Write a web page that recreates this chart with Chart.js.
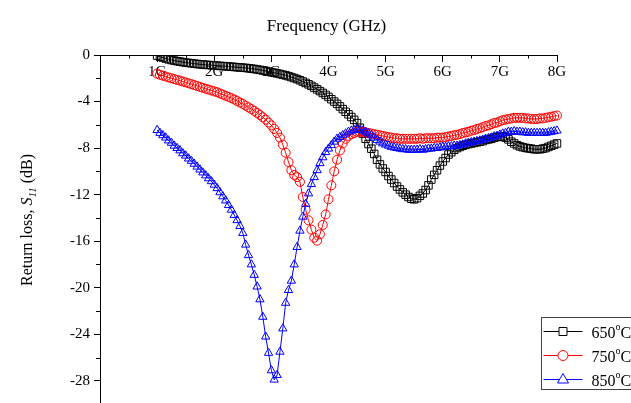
<!DOCTYPE html>
<html>
<head>
<meta charset="utf-8">
<script src="https://cdn.jsdelivr.net/npm/chart.js@4.4.1/dist/chart.umd.min.js"></script>
<style>
  html, body { margin: 0; padding: 0; background: #fff; }
  #wrap { width: 631px; height: 403px; }
</style>
</head>
<body>
<div id="wrap"><canvas id="returnLossChart"></canvas></div>
<script>
// sampling grid (GHz)
const freqStart = 1;
const freqStep = 0.05;

const xTicks = [1, 2, 3, 4, 5, 6, 7, 8];
const xMinorTicks = [0.5, 1.5, 2.5, 3.5, 4.5, 5.5, 6.5, 7.5];
const yTicks = [0, -4, -8, -12, -16, -20, -24, -28];
const yMinorTicks = [-2, -6, -10, -14, -18, -22, -26];

const seriesTemps = ["650", "750", "850"];

// 650 C, 1.00 .. 8.00 GHz
const s650 = [
  -0.05, -0.15, -0.22, -0.3, -0.37, -0.43, -0.48, -0.53, -0.57, -0.61,
  -0.65, -0.68, -0.71, -0.74, -0.77, -0.8, -0.82, -0.84, -0.86, -0.88,
  -0.9, -0.92, -0.94, -0.95, -0.97, -0.99, -1.01, -1.03, -1.05, -1.07,
  -1.09, -1.11, -1.14, -1.17, -1.2, -1.24, -1.28, -1.33, -1.38, -1.43,
  -1.48, -1.53, -1.58, -1.63, -1.69, -1.75, -1.82, -1.9, -1.98, -2.07,
  -2.17, -2.28, -2.4, -2.52, -2.65, -2.8, -2.95, -3.1, -3.26, -3.43,
  -3.6, -3.8, -4.0, -4.2, -4.42, -4.65, -4.88, -5.1, -5.33, -5.57,
  -5.85, -6.25, -6.75, -7.2, -7.65, -8.05, -8.5, -9.0, -9.4, -9.75,
  -10.05, -10.4, -10.7, -11.0, -11.3, -11.55, -11.8, -12.0, -12.2, -12.35,
  -12.4, -12.3, -12.1, -11.9, -11.6, -11.2, -10.7, -10.3, -9.9, -9.5,
  -9.15, -8.85, -8.55, -8.35, -8.15, -8.0, -7.9, -7.8, -7.72, -7.65,
  -7.6, -7.55, -7.5, -7.45, -7.4, -7.3, -7.25, -7.2, -7.1, -7.05,
  -7.0, -7.0, -7.1, -7.25, -7.45, -7.6, -7.75, -7.85, -7.92, -7.98,
  -8.02, -8.05, -8.1, -8.1, -8.1, -8.05, -8.0, -7.9, -7.8, -7.7,
  -7.6,
];

// 750 C
const s750 = [
  -1.6, -1.7, -1.78, -1.85, -1.93, -2.0, -2.07, -2.14, -2.2, -2.28,
  -2.35, -2.43, -2.5, -2.58, -2.66, -2.74, -2.82, -2.9, -2.97, -3.05,
  -3.12, -3.2, -3.3, -3.4, -3.5, -3.6, -3.7, -3.82, -3.95, -4.08,
  -4.2, -4.35, -4.5, -4.65, -4.8, -4.97, -5.15, -5.35, -5.55, -5.8,
  -6.05, -6.35, -6.7, -7.1, -7.7, -8.4, -9.2, -9.9, -10.3, -10.5,
  -10.9, -12.2, -13.3, -14.2, -15.0, -15.7, -15.95, -15.4, -14.6, -13.7,
  -12.4, -11.2, -10.0, -9.0, -8.2, -7.6, -7.2, -6.95, -6.8, -6.7,
  -6.6, -6.6, -6.6, -6.65, -6.7, -6.75, -6.8, -6.85, -6.9, -6.95,
  -7.0, -7.05, -7.1, -7.15, -7.15, -7.2, -7.2, -7.2, -7.2, -7.2,
  -7.2, -7.2, -7.15, -7.2, -7.15, -7.15, -7.15, -7.15, -7.1, -7.1,
  -7.1, -7.05, -7.0, -6.95, -6.9, -6.85, -6.8, -6.7, -6.65, -6.6,
  -6.5, -6.45, -6.35, -6.3, -6.2, -6.1, -6.05, -5.95, -5.85, -5.8,
  -5.7, -5.6, -5.55, -5.5, -5.45, -5.4, -5.4, -5.4, -5.4, -5.45,
  -5.45, -5.5, -5.5, -5.5, -5.45, -5.45, -5.4, -5.35, -5.3, -5.25,
  -5.2,
];

// 850 C
const s850 = [
  -6.45, -6.7, -6.9, -7.1, -7.35, -7.55, -7.8, -8.0, -8.2, -8.45,
  -8.65, -8.9, -9.1, -9.35, -9.6, -9.85, -10.1, -10.35, -10.6, -10.85,
  -11.15, -11.45, -11.8, -12.15, -12.5, -12.9, -13.3, -13.75, -14.2, -14.7,
  -15.3, -16.3, -17.2, -18.0, -18.9, -19.9, -21.0, -22.5, -24.2, -25.6,
  -27.1, -27.9, -27.5, -25.5, -23.5, -21.3, -20.2, -19.4, -18.0, -16.5,
  -15.1, -13.9, -12.8, -11.9, -11.1, -10.5, -9.9, -9.3, -8.8, -8.35,
  -8.05, -7.75, -7.45, -7.2, -7.05, -6.9, -6.75, -6.6, -6.5, -6.45,
  -6.4, -6.45, -6.5, -6.6, -6.75, -6.9, -7.1, -7.3, -7.45, -7.6,
  -7.7, -7.8, -7.9, -7.95, -8.0, -8.05, -8.1, -8.1, -8.15, -8.15,
  -8.15, -8.15, -8.1, -8.15, -8.1, -8.05, -8.05, -8.0, -8.0, -7.95,
  -7.9, -7.9, -7.85, -7.85, -7.8, -7.8, -7.75, -7.7, -7.6, -7.55,
  -7.5, -7.45, -7.4, -7.35, -7.3, -7.2, -7.15, -7.1, -7.0, -6.95,
  -6.85, -6.75, -6.7, -6.6, -6.6, -6.55, -6.6, -6.6, -6.65, -6.65,
  -6.7, -6.7, -6.7, -6.7, -6.7, -6.7, -6.7, -6.65, -6.6, -6.55,
  -6.5,
];

const serif = "'Liberation Serif', 'Times New Roman', serif";

function toPoints(values) {
  return values.map((v, i) => ({ x: +(freqStart + i * freqStep).toFixed(2), y: v }));
}

function makeSet(label, values, color, style, radius, order) {
  return {
    label: label,
    data: toPoints(values),
    borderColor: color,
    borderWidth: 1,
    backgroundColor: "transparent",
    pointStyle: style,
    pointRadius: radius,
    pointBorderColor: color,
    pointBackgroundColor: "rgba(0,0,0,0)",
    pointBorderWidth: 1,
    tension: 0,
    order: order,
    clip: { left: 0, top: 0, right: 6, bottom: 0 },
  };
}

// minor ticks on both axes
const minorTicks = {
  id: "minorTicks",
  afterDraw(chart) {
    const { ctx, scales } = chart;
    const top = scales.y.getPixelForValue(0);
    const left = scales.x.getPixelForValue(0);
    ctx.save();
    ctx.strokeStyle = "#000";
    ctx.lineWidth = 1;
    ctx.beginPath();
    xMinorTicks.forEach((v) => {
      const px = Math.round(scales.x.getPixelForValue(v)) + 0.5;
      ctx.moveTo(px, top);
      ctx.lineTo(px, top + 3.5);
    });
    yMinorTicks.forEach((v) => {
      const py = Math.round(scales.y.getPixelForValue(v)) + 0.5;
      ctx.moveTo(left - 4, py);
      ctx.lineTo(left, py);
    });
    ctx.stroke();
    ctx.restore();
  },
};

// axis titles with super/subscripts
const axisTitles = {
  id: "axisTitles",
  afterDraw(chart) {
    const ctx = chart.ctx;
    const area = chart.chartArea;
    ctx.save();
    ctx.fillStyle = "#000";
    ctx.textBaseline = "alphabetic";
    ctx.textAlign = "center";
    ctx.font = "17px " + serif;
    ctx.fillText("Frequency (GHz)", (area.left + area.right) / 2 - 2, 31);

    const parts = [
      { t: "Return loss, ", f: "16px " + serif, dy: 0 },
      { t: "S", f: "italic 16px " + serif, dy: 0 },
      { t: "11", f: "italic 11px " + serif, dy: 4 },
      { t: " (dB)", f: "16px " + serif, dy: 0 },
    ];
    let total = 0;
    parts.forEach((p) => { ctx.font = p.f; p.w = ctx.measureText(p.t).width; total += p.w; });
    ctx.translate(32, 220);
    ctx.rotate(-Math.PI / 2);
    ctx.textAlign = "left";
    let u = -total / 2;
    parts.forEach((p) => {
      ctx.font = p.f;
      ctx.fillText(p.t, u, p.dy);
      u += p.w;
    });
    ctx.restore();
  },
};

// boxed legend in the lower right corner
const boxLegend = {
  id: "boxLegend",
  afterDraw(chart) {
    const ctx = chart.ctx;
    const sets = chart.data.datasets;
    const boxLeft = 541.5, boxTop = 317.5, rowH = 24;
    ctx.save();
    ctx.strokeStyle = "#444";
    ctx.lineWidth = 1;
    ctx.strokeRect(boxLeft, boxTop, 120, rowH * sets.length + 0);
    sets.forEach((ds, i) => {
      const y = boxTop + 14 + i * rowH;
      ctx.strokeStyle = ds.borderColor;
      ctx.beginPath();
      ctx.moveTo(boxLeft + 2, y);
      ctx.lineTo(boxLeft + 41, y);
      ctx.stroke();
      const mx = boxLeft + 21.5;
      ctx.fillStyle = "#fff";
      ctx.beginPath();
      if (ds.pointStyle === "rect") {
        ctx.rect(mx - 4, y - 4, 8, 8);
      } else if (ds.pointStyle === "circle") {
        ctx.arc(mx, y, 5, 0, Math.PI * 2);
      } else {
        ctx.moveTo(mx, y - 6);
        ctx.lineTo(mx + 5.5, y + 3.5);
        ctx.lineTo(mx - 5.5, y + 3.5);
        ctx.closePath();
      }
      ctx.fill();
      ctx.stroke();

      ctx.fillStyle = "#000";
      ctx.textBaseline = "alphabetic";
      ctx.textAlign = "left";
      let tx = boxLeft + 50;
      ctx.font = "16px " + serif;
      ctx.fillText(seriesTemps[i], tx, y + 6);
      tx += ctx.measureText(seriesTemps[i]).width;
      ctx.font = "10px " + serif;
      ctx.fillText("o", tx, y - 2);
      tx += ctx.measureText("o").width;
      ctx.font = "16px " + serif;
      ctx.fillText("C", tx, y + 6);
    });
    ctx.restore();
  },
};

const ctx = document.getElementById("returnLossChart").getContext("2d");
new Chart(ctx, {
  type: "line",
  data: {
    datasets: [
      makeSet(seriesTemps[0] + "°C", s650, "#000000", "rect", 5.3, 2),
      makeSet(seriesTemps[1] + "°C", s750, "#ff0000", "circle", 4.5, 1),
      makeSet(seriesTemps[2] + "°C", s850, "#0000ff", "triangle", 4.8, 0),
    ],
  },
  options: {
    responsive: true,
    maintainAspectRatio: false,
    animation: false,
    layout: {
      autoPadding: false,
      padding: { top: 55, right: 74, bottom: 0, left: 0 },
    },
    plugins: {
      legend: { display: false },
      tooltip: { enabled: false },
    },
    scales: {
      x: {
        type: "linear",
        position: { y: 0 },
        min: 0,
        max: 8,
        afterBuildTicks: (scale) => {
          scale.ticks = xTicks.map((v) => ({ value: v }));
        },
        afterFit: (scale) => {
          scale.paddingLeft = 0;
          scale.paddingRight = 0;
        },
        ticks: {
          autoSkip: false,
          maxRotation: 0,
          padding: 2,
          color: "#000",
          font: { family: serif, size: 15 },
          callback: (v) => v + "G",
        },
        grid: {
          drawOnChartArea: false,
          drawTicks: true,
          tickLength: 6,
          tickColor: "#000",
        },
        border: { display: true, color: "#000", width: 1 },
      },
      y: {
        type: "linear",
        position: "left",
        min: -29.9,
        max: 0,
        afterBuildTicks: (scale) => {
          scale.ticks = yTicks.map((v) => ({ value: v }));
        },
        afterFit: (scale) => {
          scale.width = 100;
          scale.paddingTop = 0;
          scale.paddingBottom = 0;
        },
        ticks: {
          autoSkip: false,
          padding: 4,
          color: "#000",
          font: { family: serif, size: 15 },
          callback: (v) => String(v),
        },
        grid: {
          drawOnChartArea: false,
          drawTicks: true,
          tickLength: 6,
          tickColor: "#000",
        },
        border: { display: true, color: "#000", width: 1 },
      },
    },
  },
  plugins: [minorTicks, axisTitles, boxLegend],
});
</script>
</body>
</html>
